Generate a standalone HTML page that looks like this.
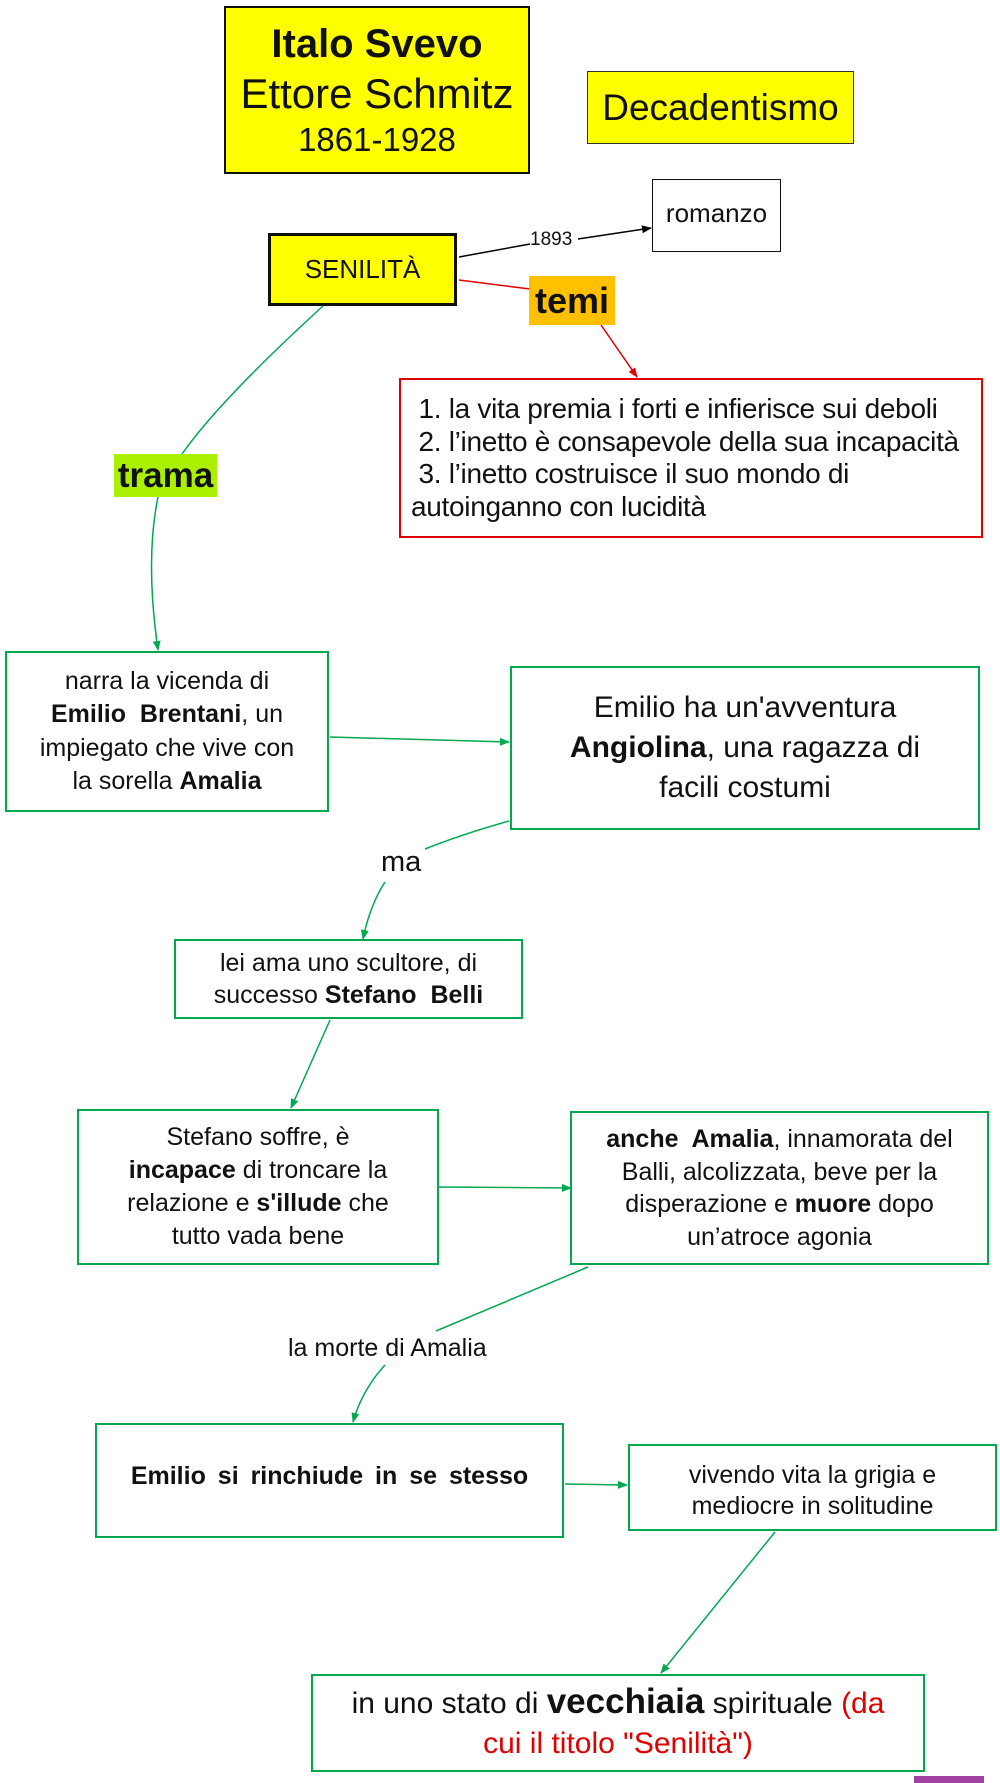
<!DOCTYPE html>
<html><head><meta charset="utf-8"><style>
body{margin:0;background:#fff;}
#c{position:relative;width:1000px;height:1783px;overflow:hidden;font-family:"Liberation Sans",Arial,sans-serif;color:#111;}
.b{position:absolute;box-sizing:border-box;display:flex;flex-direction:column;justify-content:center;align-items:center;text-align:center;}
.g{border:2px solid #00a850;background:#fff;}
.t{position:absolute;white-space:nowrap;}
b{font-weight:bold;}
svg{position:absolute;left:0;top:0;}
</style></head><body><div id="c">
<svg width="1000" height="1783">
<defs>
<marker id="ak" markerWidth="10" markerHeight="8" refX="9" refY="4" orient="auto" markerUnits="userSpaceOnUse"><path d="M0,0L10,4L0,8z" fill="#000"/></marker>
<marker id="ar" markerWidth="10" markerHeight="8" refX="9" refY="4" orient="auto" markerUnits="userSpaceOnUse"><path d="M0,0L10,4L0,8z" fill="#e00000"/></marker>
<marker id="ag" markerWidth="10" markerHeight="8" refX="9" refY="4" orient="auto" markerUnits="userSpaceOnUse"><path d="M0,0L10,4L0,8z" fill="#00a850"/></marker>
</defs>
<g fill="none" stroke-width="1.5">
<path d="M459,257L530,244" stroke="#000"/>
<path d="M578,239L651,228" stroke="#000" marker-end="url(#ak)"/>
<path d="M459,280L530,289" stroke="#e00000"/>
<path d="M601,325L637,377" stroke="#e00000" marker-end="url(#ar)"/>
<path d="M323,306Q220,400 182,454" stroke="#00a850"/>
<path d="M158,497Q145,560 158,650" stroke="#00a850" marker-end="url(#ag)"/>
<path d="M330,737L509,742" stroke="#00a850" marker-end="url(#ag)"/>
<path d="M509,821Q460,835 425,849" stroke="#00a850"/>
<path d="M385,882Q370,905 363,939" stroke="#00a850" marker-end="url(#ag)"/>
<path d="M330,1020L291,1108" stroke="#00a850" marker-end="url(#ag)"/>
<path d="M439,1187L571,1188" stroke="#00a850" marker-end="url(#ag)"/>
<path d="M588,1267L436,1331" stroke="#00a850"/>
<path d="M385,1365Q362,1390 353,1422" stroke="#00a850" marker-end="url(#ag)"/>
<path d="M565,1484L627,1485" stroke="#00a850" marker-end="url(#ag)"/>
<path d="M775,1532L661,1673" stroke="#00a850" marker-end="url(#ag)"/>
</g>
</svg>

<div class="b" style="left:224px;top:6px;width:306px;height:168px;background:#ffff00;border:2px solid #111;">
<div style="font-size:40px;font-weight:bold;line-height:50px;">Italo Svevo</div>
<div style="font-size:42px;line-height:50px;">Ettore Schmitz</div>
<div style="font-size:33px;line-height:42px;">1861-1928</div>
</div>
<div class="b" style="left:587px;top:71px;width:267px;height:73px;background:#ffff00;border:1.5px solid #333;font-size:37px;">Decadentismo</div>
<div class="b" style="left:652px;top:179px;width:129px;height:73px;border:1.5px solid #111;font-size:26px;justify-content:flex-start;padding-top:18px;">romanzo</div>
<div class="t" style="left:530px;top:229px;font-size:19px;background:#fff;">1893</div>
<div class="b" style="left:268px;top:233px;width:189px;height:73px;background:#ffff00;border:3px solid #111;font-size:26px;">SENILITÀ</div>
<div class="b" style="left:529px;top:276px;width:86px;height:49px;background:#ffc000;font-size:36px;font-weight:bold;">temi</div>
<div class="b" style="left:399px;top:378px;width:584px;height:160px;border:2px solid #e00000;align-items:flex-start;text-align:left;font-size:28px;line-height:32.5px;padding-left:10px;white-space:nowrap;letter-spacing:-0.3px;">
<div>&nbsp;1. la vita premia i forti e infierisce sui deboli</div>
<div>&nbsp;2. l’inetto è consapevole della sua incapacità</div>
<div>&nbsp;3. l’inetto costruisce il suo mondo di</div>
<div>autoinganno con lucidità</div>
</div>
<div class="b" style="left:114px;top:454px;width:103px;height:43px;background:#aaf000;font-size:35px;font-weight:bold;">trama</div>

<div class="b g" style="left:5px;top:651px;width:324px;height:161px;font-size:25px;line-height:33.5px;">
<div>narra la vicenda di</div><div><b>Emilio&nbsp; Brentani</b>, un</div><div>impiegato che vive con</div><div>la sorella <b>Amalia</b></div></div>
<div class="b g" style="left:510px;top:666px;width:470px;height:164px;font-size:30px;line-height:40px;">
<div>Emilio ha un'avventura</div><div><b>Angiolina</b>, una ragazza di</div><div>facili costumi</div></div>
<div class="t" style="left:381px;top:846px;font-size:29px;">ma</div>
<div class="b g" style="left:174px;top:939px;width:349px;height:80px;font-size:25px;line-height:32px;">
<div>lei ama uno scultore, di</div><div>successo <b>Stefano&nbsp; Belli</b></div></div>
<div class="b g" style="left:77px;top:1109px;width:362px;height:156px;font-size:25px;line-height:33px;">
<div>Stefano soffre, è</div><div><b>incapace</b> di troncare la</div><div>relazione e <b>s'illude</b> che</div><div>tutto vada bene</div></div>
<div class="b g" style="left:570px;top:1111px;width:419px;height:154px;font-size:25px;line-height:32.5px;">
<div><b>anche&nbsp; Amalia</b>, innamorata del</div><div>Balli, alcolizzata, beve per la</div><div>disperazione e <b>muore</b> dopo</div><div>un’atroce agonia</div></div>
<div class="t" style="left:288px;top:1334px;font-size:25px;">la morte di Amalia</div>
<div class="b g" style="left:95px;top:1423px;width:469px;height:115px;font-size:25px;font-weight:bold;word-spacing:5px;padding-bottom:8px;">Emilio si rinchiude in se stesso</div>
<div class="b g" style="left:628px;top:1444px;width:369px;height:87px;font-size:25px;line-height:31px;justify-content:flex-start;padding-top:14px;">
<div>vivendo vita la grigia e</div><div>mediocre in solitudine</div></div>
<div class="b g" style="left:311px;top:1674px;width:614px;height:98px;font-size:30px;line-height:40px;">
<div>in uno stato di <b style="font-size:35px;">vecchiaia</b> spirituale <span style="color:#e00000">(da</span></div>
<div style="color:#e00000">cui il titolo "Senilità")</div></div>
<div style="position:absolute;left:914px;top:1776px;width:70px;height:7px;background:#a040a0;"></div>
</div></body></html>
